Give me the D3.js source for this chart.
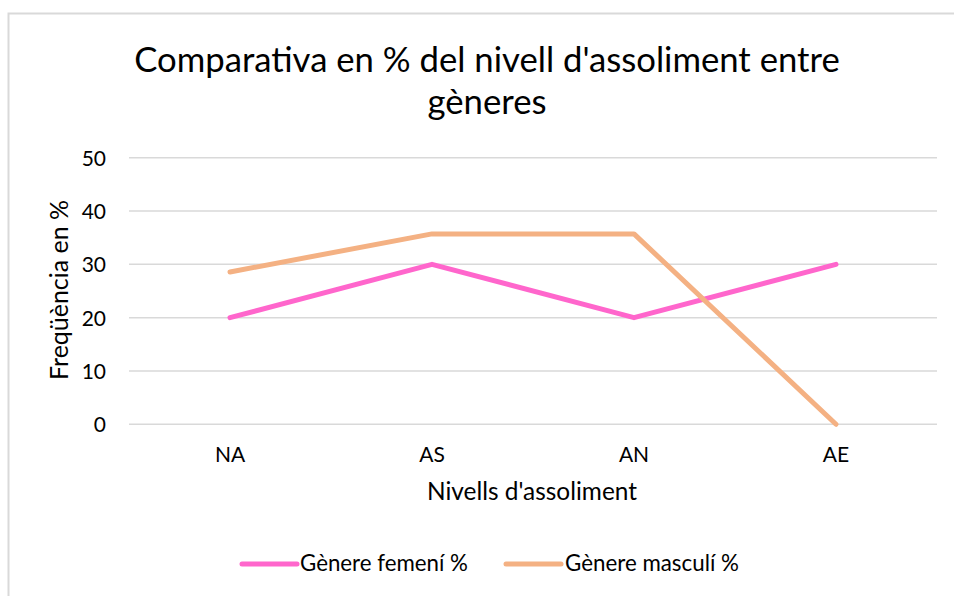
<!DOCTYPE html>
<html><head><meta charset="utf-8">
<script src="https://cdn.jsdelivr.net/npm/d3@7"></script>
<style>body{margin:0;background:#fff}svg{display:block}text{font-family:Lato,"Open Sans",sans-serif;fill:#000}</style>
</head><body><svg id="c" width="954" height="596"></svg>
<script>
const categories = ["NA", "AS", "AN", "AE"];
const femeni = [20, 30, 20, 30];
const masculi = [28.57, 35.71, 35.71, 0];
const yTicks = [0, 10, 20, 30, 40, 50];
const seriesNames = ["Gènere femení %", "Gènere masculí %"];
const colors = ["#FF66CC", "#F4B183"];
const titleLines = ["Comparativa en % del nivell d'assoliment entre", "gèneres"];

const svg = d3.select("#c");
// chart frame
svg.append("rect").attr("x", 8.5).attr("y", 13.5).attr("width", 1000).attr("height", 700)
  .attr("fill", "#fff").attr("stroke", "#D9D9D9").attr("stroke-width", 2);

const x = d3.scaleBand().domain(categories).range([129, 937]);
const y = d3.scaleLinear().domain([0, 50]).range([424.3, 157.7]);

function fit(sel, w) {
  const n = sel.node(); const fs = parseFloat(sel.attr("font-size"));
  const L = n.getComputedTextLength(); sel.attr("font-size", fs * w / L);
  return sel;
}

// title
const t1 = fit(svg.append("text").attr("x", 487).attr("y", 72).attr("text-anchor", "middle")
  .attr("font-size", 32).text(titleLines[0]), 706);
svg.append("text").attr("x", 487).attr("y", 114).attr("text-anchor", "middle")
  .attr("font-size", t1.attr("font-size")).text(titleLines[1]);

// gridlines
svg.append("g").selectAll("line").data(yTicks).join("line")
  .attr("x1", 129).attr("x2", 937).attr("y1", d => y(d)).attr("y2", d => y(d))
  .attr("stroke", "#D9D9D9").attr("stroke-width", 1.5);

// y axis
const ya = svg.append("g").attr("transform", "translate(106,0)")
  .call(d3.axisLeft(y).tickValues(yTicks).tickSize(0).tickPadding(0));
ya.select(".domain").remove();
ya.selectAll("text").attr("font-size", 21).attr("font-family", "Lato").attr("fill", "#000").attr("dy", "0.36em");

// x axis
const xa = svg.append("g").attr("transform", "translate(0,424.3)")
  .call(d3.axisBottom(x).tickSize(0).tickPadding(0));
xa.select(".domain").remove();
xa.selectAll("text").attr("font-size", 21).attr("font-family", "Lato").attr("fill", "#000").attr("dy", 0).attr("y", 38);

// axis titles
fit(svg.append("text").attr("x", 532).attr("y", 500).attr("text-anchor", "middle")
  .attr("font-size", 22).text("Nivells d'assoliment"), 210);
fit(svg.append("text").attr("transform", "translate(68,290) rotate(-90)").attr("text-anchor", "middle")
  .attr("font-size", 22).text("Freqüència en %"), 180);

// lines
const line = d3.line().x((d, i) => x(categories[i]) + x.bandwidth() / 2).y(d => y(d));
[femeni, masculi].forEach((s, k) => {
  svg.append("path").datum(s).attr("d", line).attr("fill", "none")
    .attr("stroke", colors[k]).attr("stroke-width", 5).attr("stroke-linecap", "round").attr("stroke-linejoin", "round");
});

// legend
const lg = [{x: 242, tx: 300}, {x: 506, tx: 565}];
seriesNames.forEach((n, k) => {
  svg.append("line").attr("x1", lg[k].x).attr("x2", lg[k].x + 55).attr("y1", 564).attr("y2", 564)
    .attr("stroke", colors[k]).attr("stroke-width", 5).attr("stroke-linecap", "round");
  fit(svg.append("text").attr("x", lg[k].tx).attr("y", 571).attr("font-size", 20).text(n), k ? 174 : 168);
});
</script></body></html>
